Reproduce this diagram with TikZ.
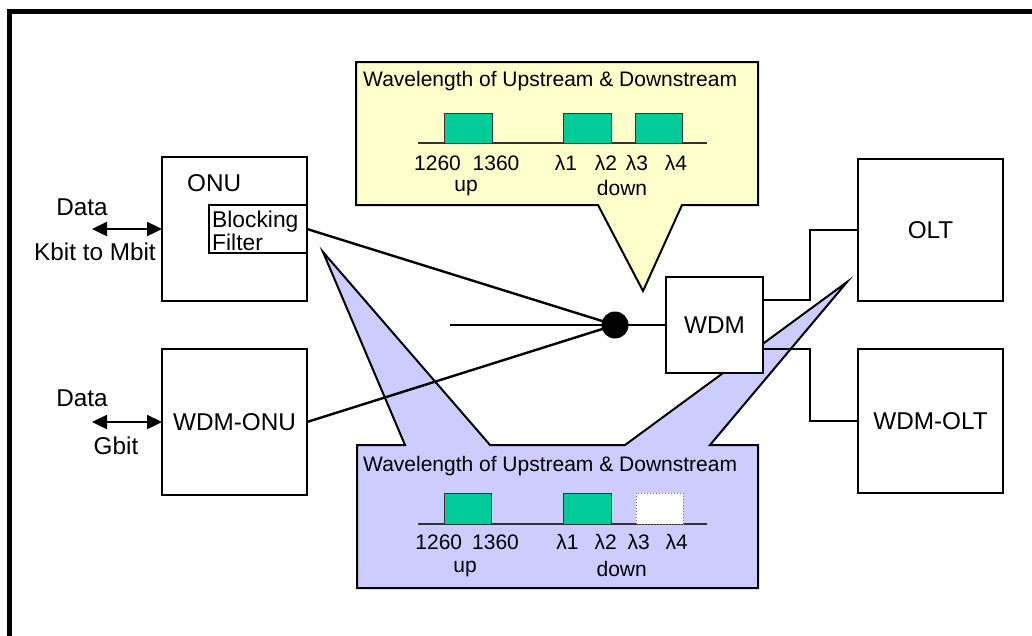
\documentclass[tikz,border=0pt]{standalone}
\usepackage{fontspec}
\setmainfont{Liberation Sans}
\usetikzlibrary{arrows.meta,calc}
\definecolor{calloutyellow}{HTML}{FFFFCC}
\definecolor{calloutblue}{HTML}{CCCCFF}
\definecolor{specgreen}{HTML}{00CC99}
\begin{document}
\begin{tikzpicture}[x=1pt,y=-1pt,
  box/.style={draw, line width=2.4pt, fill=white, inner sep=0pt, outer sep=0pt, anchor=north west, font=\fontsize{24.3}{23}\selectfont},
  lbl/.style={inner sep=0pt, font=\fontsize{24.3}{23}\selectfont},
  clbl/.style={inner sep=0pt, font=\fontsize{21}{22}\selectfont},
  wire/.style={line width=2.4pt},
  dataarrow/.style={line width=2.4pt, {Triangle[length=15pt,width=14pt]}-{Triangle[length=15pt,width=14pt]}},
  callout/.style={draw, line width=2pt, line join=miter},
  band/.style={draw=black!80, line width=1pt, fill=specgreen},
  emptyband/.style={draw=black!55, line width=1pt, dotted, fill=white},
  axisline/.style={line width=1.5pt, draw=black!80}
]
\useasboundingbox (0,0) rectangle (1032,635);
% frame (cropped)
\draw[line width=5pt] (9.5,640) -- (9.5,11.5) -- (1040,11.5);

% ---------- blue callout ----------
\draw[callout, fill=calloutblue] (357,445) -- (405,445) -- (323,252) -- (490,445) -- (625,445) -- (847,282) -- (710,445) -- (758,445) -- (758,588) -- (357,588) -- cycle;
\node[clbl, anchor=west] (btitle) at (363,466) {Wavelength of Upstream \& Downstream};
\draw[axisline] (418,524) -- (707,524);
\draw[band] (444,493) rectangle (491,524);
\draw[band] (563,493) rectangle (611,524);
\draw[emptyband] (636,493) rectangle (683,524);
\node[clbl] (b1260) at (438.8,542) {1260};
\node[clbl] (b1360) at (495.5,542) {1360};
\node[clbl] (bl1) at (567.5,542) {λ1};
\node[clbl] (bl2) at (605.8,542) {λ2};
\node[clbl] (bl3) at (638.8,542) {λ3};
\node[clbl] (bl4) at (676.7,542) {λ4};
\node[clbl] (bup) at (465,569) {up};
\node[clbl] (bdown) at (621.7,569) {down};

% ---------- yellow callout ----------
\draw[callout, fill=calloutyellow] (356,62) -- (758,62) -- (758,205) -- (682,205) -- (643,291) -- (598,205) -- (356,205) -- cycle;
\node[clbl, anchor=west] (ytitle) at (363,81) {Wavelength of Upstream \& Downstream};
\draw[axisline] (418,143) -- (707,143);
\draw[band] (444,113) rectangle (492,143);
\draw[band] (563,113) rectangle (611,143);
\draw[band] (635,113) rectangle (682,143);
\node[clbl] (y1260) at (437.5,163) {1260};
\node[clbl] (y1360) at (496,163) {1360};
\node[clbl] (yl1) at (566,163) {λ1};
\node[clbl] (yl2) at (606,163) {λ2};
\node[clbl] (yl3) at (637,163) {λ3};
\node[clbl] (yl4) at (676,163) {λ4};
\node[clbl] (yup) at (466,188) {up};
\node[clbl] (ydown) at (622,188) {down};

% ---------- boxes ----------
\node[box, minimum width=145pt, minimum height=144pt] (onu) at (162,157) {};
\node[lbl, anchor=west] (onulbl) at (187,183) {ONU};
\node[box, minimum width=98pt, minimum height=48pt] (bf) at (209,205) {};
\node[lbl, anchor=west, align=left, font=\fontsize{22.8}{23}\selectfont] (bflbl) at (212,231) {Blocking\\Filter};
\node[box, minimum width=145pt, minimum height=146pt] (wdmonu) at (162,349) {WDM-ONU};
\node[box, minimum width=97pt, minimum height=96pt] (wdm) at (666,277) {WDM};
\node[box, minimum width=145pt, minimum height=142pt] (olt) at (858,159) {OLT};
\node[box, minimum width=145pt, minimum height=144pt] (wdmolt) at (858,349) {WDM-OLT};

% ---------- junction and wires ----------
\node[circle, fill=black, minimum size=27pt, inner sep=0pt] (dot) at (615,325) {};
\coordinate (stub) at (450,325);
\draw[wire] (stub) -- (dot.center);
\draw[wire] (bf.east) -- (dot.center);
\draw[wire] (wdmonu.east) -- (dot.center);
\draw[wire] (dot.center) -- (wdm.west);
\draw[wire] ([yshift=-23pt]wdm.north east) -- ++(47,0) |- (olt.west);
\draw[wire] ([yshift=24pt]wdm.south east) -- ++(47,0) |- (wdmolt.west);

% ---------- data arrows ----------
\coordinate (d1) at (92,229);
\coordinate (d2) at (92,422);
\draw[dataarrow] (d1) -- (onu.west);
\draw[dataarrow] (d2) -- (wdmonu.west);
\node[lbl] (data1) at (82,207) {Data};
\node[lbl] (rate1) at (95,252) {Kbit to Mbit};
\node[lbl] (data2) at (82,398) {Data};
\node[lbl] (rate2) at (116,446) {Gbit};
\end{tikzpicture}
\end{document}
